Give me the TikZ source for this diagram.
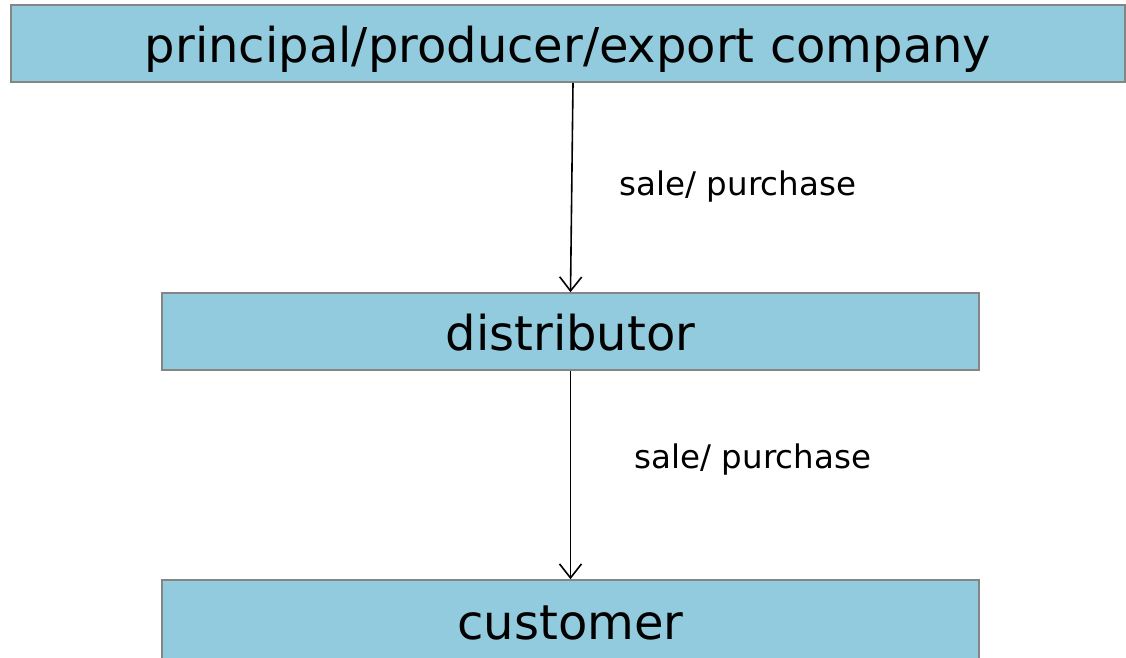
\documentclass[tikz,border=0pt]{standalone}
\usepackage{fontspec}
\setmainfont{DejaVu Sans}
\usetikzlibrary{arrows.meta}
\definecolor{boxfill}{HTML}{92CBDD}
\definecolor{boxline}{HTML}{858585}
\begin{document}
\begin{tikzpicture}[x=1pt,y=-1pt,
  entity/.style={draw=boxline,line width=1.6pt,fill=boxfill,inner sep=0pt,minimum height=77pt,font=\fontsize{48}{52}\selectfont,text height=38pt,text depth=0pt},
  flow/.style={draw=black,line width=1.6pt,-{Straight Barb[length=14pt,width=22pt,line width=1.6pt]}},
  lbl/.style={font=\fontsize{32.5}{36}\selectfont,inner sep=0pt}]
\useasboundingbox (0,0) rectangle (1126,657);
\node[entity,minimum width=1114pt] (top) at (568,43.5) {principal/producer/export company};
\node[entity,minimum width=817pt] (dist) at (570.5,331.5) {distributor};
\node[entity,minimum width=817pt,minimum height=80pt] (cust) at (570.5,620) {customer};
\draw[flow] ([xshift=5pt]top.south) -- (dist.north);
\draw[flow] (dist.south) -- (cust.north);
\node[lbl] (l1) at (738,187) {sale/ purchase};
\node[lbl] (l2) at (753,460) {sale/ purchase};
\end{tikzpicture}
\end{document}
